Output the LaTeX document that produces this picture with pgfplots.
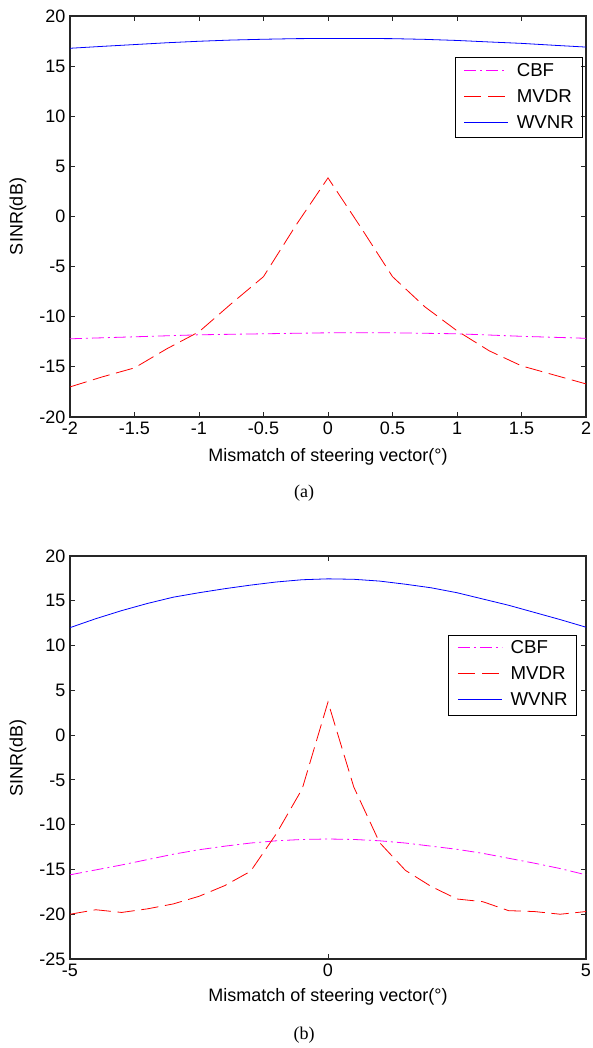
\documentclass[border=0pt]{standalone}
\usepackage{fontspec}
\setmainfont{Liberation Sans}
\newfontfamily\timesfont{Liberation Serif}
\usepackage{pgfplots}
\pgfplotsset{compat=1.18}
\definecolor{mag}{RGB}{255,0,255}
\definecolor{myred}{RGB}{255,0,0}
\definecolor{myblue}{RGB}{0,0,255}
\pgfplotsset{
  myaxis/.style={
    scale only axis,
    width=387pt,
    clip=false,
    tick align=inside,
    major tick length=4pt,
    axis line style={line width=0.8pt, black!85},
    every tick/.style={black!85, line width=0.6pt},
    /pgf/number format/assume math mode=true,
    tick label style={font=\fontsize{13.5}{16}\selectfont},
    label style={font=\fontsize{13.5}{16}\selectfont},
    xlabel={Mismatch of steering vector(°)},
    ylabel={SINR(dB)},
    ylabel style={at={(axis description cs:-0.1008,0.5)}, anchor=center},
    legend cell align=left,
    legend image code/.code={},
    legend style={font=\fontsize{14}{16}\selectfont, line width=0.6pt, anchor=north east,
      fill=none, draw=black,
      inner xsep=6.5pt, inner ysep=4pt, row sep=6.5pt, column sep=0pt,
      nodes={inner sep=0pt, text height=10pt, text depth=3pt}},
  },
  cbf/.style={draw=mag, line width=0.6pt, dash pattern=on 9pt off 3pt on 1.5pt off 3pt},
  mvdr/.style={draw=myred, line width=0.6pt, dash pattern=on 13pt off 5pt},
  wvnr/.style={draw=myblue, line width=0.6pt},
}
\begin{document}
\begin{tikzpicture}
\useasboundingbox (-52.5pt,12pt) rectangle (391.5pt,-774pt);
\begin{axis}[myaxis,
  at={(0pt,0pt)}, anchor=north west,
  height=300.75pt,
  xmin=-2, xmax=2, ymin=-20, ymax=20,
  xtick={-2,-1.5,-1,-0.5,0,0.5,1,1.5,2},
  ytick={-20,-15,-10,-5,0,5,10,15,20},
  xlabel style={at={(axis description cs:0.5,-0.0998)}, anchor=center},
  legend style={at={(axis description cs:0.994,0.897)}},
]
\addplot[cbf] coordinates {(-2,-12.2) (-1.5,-12.0) (-1,-11.8) (-0.5,-11.7) (0,-11.6) (0.5,-11.6) (1,-11.7) (1.5,-11.95) (2,-12.15)};
\addlegendentry{\hspace{39.8pt}CBF}
\addplot[mvdr] coordinates {(-2,-17.0) (-1.75,-16.0) (-1.5,-15.1) (-1.25,-13.2) (-1,-11.5) (-0.75,-8.7) (-0.5,-6.0) (-0.25,-0.9) (0,3.85) (0.25,-1.0) (0.5,-6.0) (0.75,-9.0) (1,-11.4) (1.25,-13.4) (1.5,-14.9) (1.75,-15.8) (2,-16.7)};
\addlegendentry{\hspace{39.8pt}MVDR}
\addplot[wvnr] coordinates {(-2,16.78) (-1.75,16.97) (-1.5,17.15) (-1.25,17.33) (-1,17.48) (-0.75,17.6) (-0.5,17.68) (-0.25,17.74) (0,17.76) (0.25,17.76) (0.5,17.74) (0.75,17.67) (1,17.56) (1.25,17.41) (1.5,17.27) (1.75,17.08) (2,16.9)};
\addlegendentry{\hspace{39.8pt}WVNR}
% legend keys
\addplot[cbf, forget plot] coordinates {(1.055,14.613) (1.396,14.613)};
\addplot[mvdr, forget plot] coordinates {(1.055,12.020) (1.396,12.020)};
\addplot[wvnr, forget plot] coordinates {(1.055,9.426) (1.396,9.426)};
\node[font=\timesfont\fontsize{13.5}{16}\selectfont] at (axis description cs:0.4535,-0.1895) {(a)};
\end{axis}
\begin{axis}[myaxis,
  at={(0pt,-405pt)}, anchor=north west,
  height=302.25pt,
  xmin=-5, xmax=5, ymin=-25, ymax=20,
  xtick={-5,0,5},
  ytick={-25,-20,-15,-10,-5,0,5,10,15,20},
  xlabel style={at={(axis description cs:0.5,-0.0935)}, anchor=center},
  legend style={at={(axis description cs:0.982,0.805)}},
]
\addplot[cbf] coordinates {(-5,-15.6) (-4.5,-15.05) (-4,-14.5) (-3.5,-13.9) (-3,-13.3) (-2.5,-12.8) (-2,-12.4) (-1.5,-12.05) (-1,-11.8) (-0.5,-11.65) (0,-11.6) (0.5,-11.65) (1,-11.8) (1.5,-12.05) (2,-12.4) (2.5,-12.75) (3,-13.2) (3.5,-13.75) (4,-14.3) (4.5,-14.9) (5,-15.6)};
\addlegendentry{\hspace{39.8pt}CBF}
\addplot[mvdr] coordinates {(-5,-20.0) (-4.5,-19.5) (-4,-19.8) (-3.5,-19.4) (-3,-18.85) (-2.5,-18.0) (-2,-16.8) (-1.5,-15.2) (-1,-11.0) (-0.5,-6.0) (0,3.7) (0.5,-5.8) (1,-12.0) (1.5,-15.1) (2,-16.9) (2.5,-18.3) (3,-18.6) (3.5,-19.6) (4,-19.7) (4.5,-20.0) (5,-19.7)};
\addlegendentry{\hspace{39.8pt}MVDR}
\addplot[wvnr] coordinates {(-5,12.0) (-4.5,13.0) (-4,13.9) (-3.5,14.7) (-3,15.4) (-2.5,15.9) (-2,16.35) (-1.5,16.75) (-1,17.1) (-0.5,17.35) (0,17.45) (0.5,17.4) (1,17.2) (1.5,16.85) (2,16.45) (2.5,15.9) (3,15.2) (3.5,14.5) (4,13.7) (4.5,12.9) (5,12.05)};
\addlegendentry{\hspace{39.8pt}WVNR}
% legend keys
\addplot[cbf, forget plot] coordinates {(2.517,9.806) (3.370,9.806)};
\addplot[mvdr, forget plot] coordinates {(2.517,6.903) (3.370,6.903)};
\addplot[wvnr, forget plot] coordinates {(2.517,3.999) (3.370,3.999)};
\node[font=\timesfont\fontsize{13.5}{16}\selectfont] at (axis description cs:0.4535,-0.1886) {(b)};
\end{axis}
\end{tikzpicture}
\end{document}
